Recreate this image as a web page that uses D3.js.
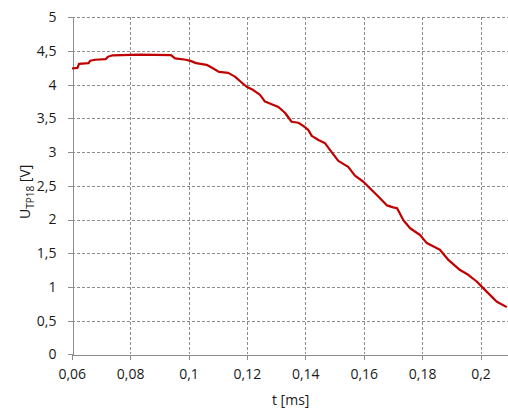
<!DOCTYPE html>
<html>
<head>
<meta charset="utf-8">
<script src="https://cdn.jsdelivr.net/npm/d3@7"></script>
<style>
  html, body { margin: 0; padding: 0; background: #fff; }
  svg { display: block; }
  text { font-family: "Open Sans", "Liberation Sans", sans-serif; fill: #1a1a1a; }
</style>
</head>
<body>
<svg id="chart" width="508" height="413"></svg>
<script>
// Time axis [ms] and measured voltage U_TP18 [V]
const timeMs = [
  0.0601, 0.0620, 0.0625, 0.0658, 0.0663, 0.0680, 0.0717, 0.0724, 0.0741,
  0.0834, 0.0940, 0.0954, 0.0991, 0.1009, 0.1026, 0.1062, 0.1085, 0.1104,
  0.1136, 0.1159, 0.1176, 0.1199, 0.1222, 0.1245, 0.1262, 0.1285, 0.1308,
  0.1331, 0.1353, 0.1376, 0.1393, 0.1410, 0.1422, 0.1445, 0.1468, 0.1485,
  0.1513, 0.1547, 0.1570, 0.1599, 0.1622, 0.1650, 0.1679, 0.1701, 0.1714,
  0.1736, 0.1759, 0.1793, 0.1816, 0.1861, 0.1890, 0.1930, 0.1958, 0.1987,
  0.2021, 0.2056, 0.2090
];
const voltage = [
  4.24, 4.25, 4.31, 4.32, 4.355, 4.37, 4.38, 4.415, 4.436,
  4.445, 4.44, 4.39, 4.37, 4.35, 4.32, 4.295, 4.24, 4.19,
  4.175, 4.12, 4.055, 3.97, 3.92, 3.85, 3.75, 3.71, 3.67,
  3.58, 3.45, 3.435, 3.39, 3.33, 3.24, 3.18, 3.13, 3.03,
  2.87, 2.78, 2.65, 2.56, 2.46, 2.34, 2.21, 2.18, 2.17,
  1.99, 1.87, 1.77, 1.65, 1.55, 1.40, 1.25, 1.18, 1.08,
  0.93, 0.78, 0.70
];
const xTicks = [0.06, 0.08, 0.1, 0.12, 0.14, 0.16, 0.18, 0.2];
const yTicks = [0, 0.5, 1, 1.5, 2, 2.5, 3, 3.5, 4, 4.5, 5];

const svg = d3.select("#chart");
const plotL = 71.7, plotR = 509.7, plotT = 17.3, plotB = 354.3;

const x = d3.scaleLinear().domain([0.06, 0.21]).range([plotL, plotR]);
const y = d3.scaleLinear().domain([0, 5]).range([plotB, plotT]);
const fmt = v => String(v).replace(".", ",");

// dashed grid
const grid = svg.append("g").attr("stroke", "#8c8c8c").attr("stroke-width", 1)
  .attr("stroke-dasharray", "3,2").attr("shape-rendering", "crispEdges");
grid.selectAll("line.h").data(yTicks.filter(d => d > 0)).join("line")
  .attr("x1", plotL).attr("x2", plotR)
  .attr("y1", d => Math.round(y(d)) + 0.5).attr("y2", d => Math.round(y(d)) + 0.5);
grid.selectAll("line.v").data(xTicks.filter(d => d > 0.06)).join("line")
  .attr("y1", plotT).attr("y2", plotB)
  .attr("x1", d => Math.round(x(d)) + 0.5).attr("x2", d => Math.round(x(d)) + 0.5);

// axes
const yAxis = svg.append("g").attr("transform", `translate(${Math.round(plotL) + 0.5},0)`)
  .call(d3.axisLeft(y).tickValues(yTicks).tickFormat(fmt).tickSize(5).tickPadding(11));
const xAxis = svg.append("g").attr("transform", `translate(0,${Math.round(plotB) + 0.5})`)
  .call(d3.axisBottom(x).tickValues(xTicks).tickFormat(fmt).tickSize(5).tickPadding(10));
[yAxis, xAxis].forEach(a => {
  a.select(".domain").attr("stroke", "#8c8c8c").attr("shape-rendering", "crispEdges");
  a.selectAll(".tick line").attr("stroke", "#8c8c8c").attr("shape-rendering", "crispEdges");
  a.selectAll("text").style("font-size", "14px").attr("fill", "#1a1a1a");
});

// measured curve
const line = d3.line().x((d, i) => x(timeMs[i])).y(d => y(d));
svg.append("path").datum(voltage)
  .attr("fill", "none").attr("stroke", "#c00000").attr("stroke-width", 2.2)
  .attr("stroke-linejoin", "round").attr("d", line);

// axis titles
svg.append("text").attr("x", (plotL + plotR) / 2).attr("y", 405)
  .attr("text-anchor", "middle").style("font-size", "14px").text("t [ms]");
const yt = svg.append("text")
  .attr("transform", `translate(30,${(plotT + plotB) / 2 + 6}) rotate(-90)`)
  .attr("text-anchor", "middle").style("font-size", "14px");
yt.append("tspan").text("U");
yt.append("tspan").attr("dy", 4).style("font-size", "10px").text("TP18");
yt.append("tspan").attr("dy", -4).text(" [V]");
</script>
</body>
</html>
